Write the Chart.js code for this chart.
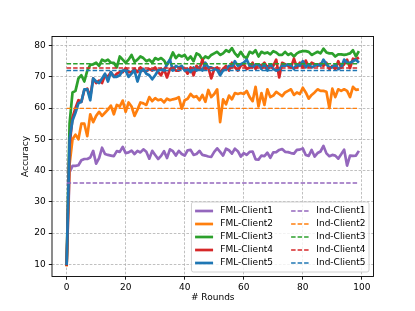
<!DOCTYPE html>
<html>
<head>
<meta charset="utf-8">
<script src="https://cdn.jsdelivr.net/npm/chart.js@4/dist/chart.umd.min.js"></script>
<style>
    body { margin: 0; background: #fff; }
    canvas { display: block; }
</style>
</head>
<body>
<canvas id="accChart" width="415" height="311"></canvas>
<script>
// 轮次与刻度
const rounds = Array.from({ length: 100 }, (_, i) => i);
const xTicks = [0, 20, 40, 60, 80, 100];
const yTicks = [10, 20, 30, 40, 50, 60, 70, 80];

// 联邦学习各客户端精度
const fmlClient1 = [
    9.5, 39.5, 41.5, 41.5, 41.7, 43.3, 43.7, 43.7, 44.2, 46.3,
    42.2, 44, 47.3, 45.3, 45, 44.8, 44.6, 46.2, 46, 47.6,
    45.6, 45.8, 46.4, 45.3, 46.3, 45.8, 46.8, 46, 43.8, 46.3,
    45, 43.7, 44.7, 46.2, 44, 46.8, 46.2, 44.8, 46.3, 45.3,
    44.8, 46.5, 46.6, 45, 45.3, 46.3, 45, 44.8, 44.5, 44.4,
    46, 47.1, 46, 44.8, 47, 46.5, 45.4, 47, 46.2, 44.5,
    45.6, 45, 46, 46.1, 43.6, 43.5, 44.8, 44.6, 45.7, 44.1,
    45.8, 45.9, 46.6, 46.9, 46, 45.9, 45.6, 45.4, 46.6, 46.7,
    47.1, 45, 44.7, 46.6, 44.5, 45.6, 46.1, 47.9, 45.5, 44.6,
    45, 44.8, 43.8, 45.2, 46.7, 41.6, 44.8, 44.7, 44.8, 46.3
];
const fmlClient2 = [
    9.3, 42, 50, 51.5, 50, 55, 55, 51, 58, 55.5,
    57.5, 58.8, 57.5, 58.5, 59.5, 60.8, 58, 61, 60.5, 62.4,
    58.8, 61.8, 60.5, 57.5, 59.5, 61.8, 61.5, 61, 63.5, 62.2,
    63.2, 62.5, 62.8, 61.8, 63, 62.5, 62.8, 63, 63.5, 59.8,
    62.5, 63, 64.5, 63.5, 63.8, 62.5, 64.2, 62, 65.8, 63.5,
    64.5, 66, 55.5, 62.8, 61.2, 64, 62.8, 64.8, 64.5, 64.8,
    64.5, 65.5, 63.5, 62.2, 66.8, 60.5, 64.8, 61, 66, 63.5,
    64, 65.2, 64.5, 63.8, 65, 65.5, 66, 64.2, 65, 64.5,
    66.5, 65, 63, 64.2, 65, 66, 65.5, 65.5, 65.2, 60,
    66.2, 63.5, 66, 65.5, 66, 65.5, 63.5, 66.8, 65.8, 66
];
const fmlClient3 = [
    9.5, 55, 65, 65.5, 69.5, 70.5, 68.5, 72, 73.8, 74,
    74.5, 73.5, 75.5, 75, 75.5, 74.5, 74.5, 73, 76.5, 75.5,
    74.5, 75.5, 77, 74.8, 75.5, 76.5, 76, 75, 75.5, 74.5,
    76, 75.5, 76, 75.2, 73.8, 75.5, 77.8, 76, 77, 76.5,
    77, 75.5, 76.5, 75, 77.5, 77, 75.5, 76.5, 76, 77,
    77.5, 78, 77, 77.5, 78.5, 78, 79.2, 77.5, 76.5, 78,
    76.5, 76, 78, 77.5, 78.5, 76.5, 78, 77.5, 77.8, 77.2,
    78.2, 77.8, 77, 77, 78, 77, 77.5, 76.5, 77.5, 78,
    78.2, 78.2, 78, 77, 77.5, 78, 77.5, 79, 77.8, 77.5,
    77.5, 76.5, 77.2, 77.2, 77, 77.2, 77.5, 78.5, 76.5, 78.2
];
const fmlClient4 = [
    9.5, 48, 57, 60, 62.5, 62, 65.8, 66.2, 63.5, 69.5,
    68, 68.8, 68, 70.5, 70, 71.5, 70, 71, 71.5, 71.5,
    72.8, 71.5, 71.5, 72.5, 71.5, 73, 72, 71.8, 72.5, 72,
    73, 71.5, 70.5, 72.5, 69.8, 72.5, 73, 72, 72, 73,
    72.5, 71, 73, 70.5, 73.5, 72.5, 75.5, 72.5, 73, 69.5,
    72.5, 73, 71.5, 72.5, 73.5, 72, 74.5, 73, 72, 73.5,
    74, 72.5, 73, 74.5, 72.5, 74, 73.5, 74.5, 73, 74,
    73.5, 75.5, 69.8, 74.5, 74, 73.5, 73, 75.8, 73, 74.5,
    73, 75.2, 73.2, 74.5, 74, 73.5, 74.2, 73.5, 74.5, 72.5,
    73.5, 72.5, 75, 73, 74, 75.5, 72.8, 75.8, 75.5, 76.2
];
const fmlClient5 = [
    9.8, 50, 56, 58.5, 61.5, 62, 66, 66, 62.5, 69.5,
    68.5, 68, 69.5, 71, 68.5, 71.5, 70, 70, 70.5, 72,
    72, 70, 71, 72, 68.5, 71.5, 72.5, 71, 70.5, 69.2,
    70.5, 72, 72.5, 72, 74, 75.5, 72, 73.5, 73, 73.5,
    72, 72.5, 71.5, 73, 72, 73, 72, 74.5, 73, 73,
    72.5, 72.2, 70.5, 72, 72.5, 73.5, 73, 75, 73.5, 74,
    74.5, 75.5, 73.5, 73, 74, 74, 72.5, 74, 72, 74,
    72.5, 72, 72.5, 73.5, 73.5, 74, 73.5, 72.5, 74, 73.5,
    75, 73, 74, 73, 73.5, 74, 73.5, 75.5, 74, 73,
    73, 74, 72.5, 73, 75.5, 74.5, 74.5, 75, 75.5, 74.5
];

// 独立训练各客户端精度
const indAccuracy = [36, 59.9, 74.2, 72.8, 72];

const clientColors = ['#9467bd', '#ff7f0e', '#2ca02c', '#d62728', '#1f77b4'];
const fmlSeries = [fmlClient1, fmlClient2, fmlClient3, fmlClient4, fmlClient5];
const FONT = { family: 'DejaVu Sans', size: 9 };

function buildDatasets() {
    const sets = [];
    fmlSeries.forEach((vals, i) => {
        sets.push({
            label: 'FML-Client' + (i + 1),
            data: vals,
            borderColor: clientColors[i],
            borderWidth: 2.7,
            borderJoinStyle: 'round',
            pointRadius: 0,
            fill: false
        });
    });
    indAccuracy.forEach((v, i) => {
        sets.push({
            label: 'Ind-Client' + (i + 1),
            data: [{ x: rounds[0], y: v }, { x: rounds[rounds.length - 1], y: v }],
            borderColor: clientColors[i],
            borderWidth: 1.4,
            borderDash: [4.5, 2],
            pointRadius: 0,
            fill: false
        });
    });
    // 后画的在上层（和 matplotlib 一致）
    sets.forEach((s, i) => { s.order = sets.length - i; });
    return sets;
}

// 外框 + 图例（右下角，两列）
const frameLegend = {
    id: 'frameLegend',
    afterDraw(chart) {
        const ctx = chart.ctx;
        const area = chart.chartArea;
        ctx.save();
        ctx.strokeStyle = '#000';
        ctx.lineWidth = 0.9;
        ctx.strokeRect(area.left, area.top, area.right - area.left, area.bottom - area.top);

        ctx.font = FONT.size + 'px ' + FONT.family;
        const sets = chart.data.datasets;
        const col1 = sets.slice(0, 5), col2 = sets.slice(5);
        const w1 = Math.max(...col1.map(d => ctx.measureText(d.label).width));
        const w2 = Math.max(...col2.map(d => ctx.measureText(d.label).width));
        const pad = 3.6, handle = 18, gap = 7.2, colGap = 18, rowH = 13;
        const boxW = pad + handle + gap + w1 + colGap + handle + gap + w2 + pad;
        const boxH = 70;
        const right = area.right - 4.5, bottom = area.bottom - 4.5;
        const left = right - boxW, top = bottom - boxH;

        ctx.beginPath();
        ctx.roundRect(left, top, boxW, boxH, 2);
        ctx.fillStyle = 'rgba(255,255,255,0.8)';
        ctx.fill();
        ctx.strokeStyle = '#cccccc';
        ctx.lineWidth = 0.9;
        ctx.stroke();

        const drawCol = (items, x0) => {
            items.forEach((d, i) => {
                const y = top + 9 + i * rowH;
                ctx.beginPath();
                ctx.setLineDash(d.borderDash || []);
                ctx.strokeStyle = d.borderColor;
                ctx.lineWidth = d.borderWidth;
                ctx.moveTo(x0, y);
                ctx.lineTo(x0 + handle, y);
                ctx.stroke();
                ctx.setLineDash([]);
                ctx.fillStyle = '#000';
                ctx.textBaseline = 'middle';
                ctx.textAlign = 'left';
                ctx.fillText(d.label, x0 + handle + gap, y);
            });
        };
        drawCol(col1, left + pad);
        drawCol(col2, left + pad + handle + gap + w1 + colGap);
        ctx.restore();
    }
};

function axisGrid() {
    return {
        color: '#b0b0b0',
        lineWidth: 0.8,
        tickColor: '#000',
        tickLength: 3.2,
        tickWidth: 0.9,
        tickBorderDash: []
    };
}

new Chart(document.getElementById('accChart'), {
    type: 'line',
    data: { labels: rounds, datasets: buildDatasets() },
    options: {
        responsive: false,
        animation: false,
        devicePixelRatio: 1,
        layout: { padding: { top: 36.5, right: 41.5, bottom: 0, left: 0 } },
        plugins: { legend: { display: false }, tooltip: { enabled: false } },
        scales: {
            x: {
                type: 'linear',
                min: -4.95,
                max: 103.95,
                afterBuildTicks: axis => { axis.ticks = xTicks.map(v => ({ value: v })); },
                afterFit: s => { s.height = 34.5; },
                grid: axisGrid(),
                border: { display: false, dash: [2.6, 1.6] },
                ticks: { color: '#000', font: FONT, padding: 2.5, maxRotation: 0 },
                title: { display: true, text: '# Rounds', color: '#000', font: FONT, padding: { top: 0, bottom: 7.6 } }
            },
            y: {
                min: 6.1,
                max: 82.9,
                afterBuildTicks: axis => { axis.ticks = yTicks.map(v => ({ value: v })); },
                afterFit: s => { s.width = 52; },
                grid: axisGrid(),
                border: { display: false, dash: [2.6, 1.6] },
                ticks: { color: '#000', font: FONT, padding: 3 },
                title: { display: true, text: 'Accuracy', color: '#000', font: FONT, padding: { top: 20.6, bottom: 0 } }
            }
        }
    },
    plugins: [frameLegend]
});
</script>
</body>
</html>
